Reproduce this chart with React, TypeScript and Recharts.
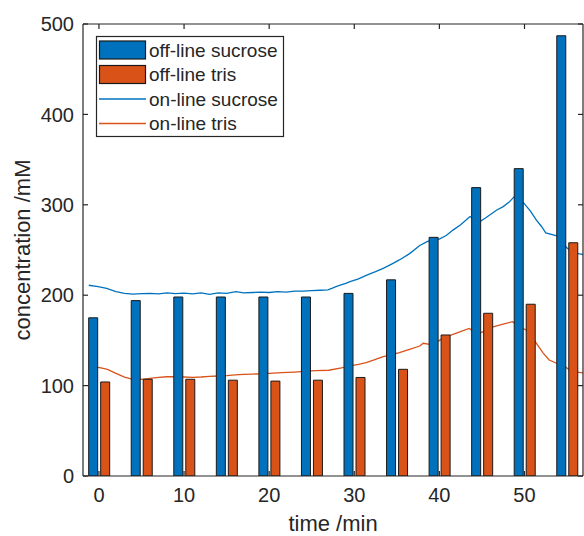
import { ComposedChart, Bar, Line, XAxis, YAxis, Legend, Label } from "recharts";

// off-line samples, every 5 min
const offlineTimes = [0, 5, 10, 15, 20, 25, 30, 35, 40, 45, 50, 55];
const offlineSucrose = [175, 194, 198, 198, 198, 198, 202, 217, 264, 319, 340, 487];
const offlineTris = [104, 107, 107, 106, 105, 106, 109, 118, 156, 180, 190, 258];

// on-line sucrose trace
const sucroseTimes = [
  -1.2, -0.1, 0.9, 2, 3, 4, 5, 6, 7, 8, 9, 10, 11, 12, 13, 14, 15, 16.1, 17, 18.1,
  19, 20, 21, 22, 23, 24, 25, 26, 26.9, 27.5, 28, 29, 29.5, 30.5, 31.4, 32.5, 33.4,
  34.5, 35.3, 36.5, 37.7, 38.5, 39.3, 40, 40.8, 41.6, 42.5, 43.6, 44.7, 45.5, 46.7,
  47.5, 48.2, 48.8, 49.3, 50, 50.7, 51.4, 52, 52.5, 53.7, 54.3, 54.9, 55.7, 56.5, 56.9,
];
const sucroseValues = [
  211, 209.5, 207.5, 204, 202, 201.3, 201.8, 202, 201.5, 202.5, 201.8, 202.3, 201.5, 202.5, 201, 202.5, 202, 204, 202.5, 203,
  203.5, 203, 204, 203.5, 204.5, 204.5, 205, 205.5, 205.8, 208, 210, 213, 215, 218, 222, 226, 229.7,
  235, 239, 246, 255, 259, 262, 262, 266, 272, 278, 287, 281, 286, 294,
  298, 303, 309, 308, 301, 293, 283, 276, 269, 266, 262, 253, 247, 245.6, 245,
];

// on-line tris trace
const trisTimes = [
  -1.2, 0.1, 1, 2, 3, 4, 5, 6, 7, 8, 9, 10, 11, 12, 13, 14, 15, 16, 17, 18, 19, 20,
  21.5, 23, 24.5, 25.5, 27, 28.5, 29.5, 30.5, 31.4, 32.5, 33.4, 34.5, 35.3, 36.5, 37.7,
  38.1, 39.2, 40, 40.8, 42, 43.5, 44.5, 45.5, 46.3, 47.5, 48.6, 49.4, 50.2, 50.8, 51.4,
  52.2, 52.9, 53.7, 54.5, 55.2, 55.7, 56.9,
];
const trisValues = [
  121, 120, 118, 113.6, 109.5, 107, 107, 108, 109, 109.8, 110, 109.5, 109, 109.5, 110.3, 110.6, 111, 111.8, 112.5, 112.8, 113, 113.5,
  114.3, 115, 116, 116.5, 117, 119.5, 121.7, 123.5, 125.4, 129, 132, 134.5, 136.4, 140, 143.8,
  146.8, 145, 150, 154, 158, 163.3, 157, 161, 165, 168, 170.7, 165, 161.5, 155, 146.8,
  136, 128.3, 125, 122.8, 118, 115.4, 114,
];

const xTicks = [0, 10, 20, 30, 40, 50];
const yTicks = [0, 100, 200, 300, 400, 500];
const legendOrder = ["off-line sucrose", "off-line tris", "on-line sucrose", "on-line tris"];

const X_DOMAIN: [number, number] = [-1.875, 56.875];
const Y_DOMAIN: [number, number] = [0, 500];

const AXIS = "#262626";
const EDGE = "#1a1a1a";
const BLUE = "#0072BD";
const ORANGE = "#D95319";
const FONT = "'Liberation Sans', Arial, Helvetica, sans-serif";

const barData = offlineTimes.map((t, i) => ({ t, sucrose: offlineSucrose[i], tris: offlineTris[i] }));
const sucroseLine = sucroseTimes.map((t, i) => ({ t, v: sucroseValues[i] }));
const trisLine = trisTimes.map((t, i) => ({ t, v: trisValues[i] }));

const axisLineStyle = { stroke: AXIS, strokeWidth: 1.2 };
const TICK = 5; // inward tick length
const X_GAP = 12; // axis line -> top of x labels
const Y_GAP = 9; // axis line -> right end of y labels

// tick renderers draw the inward mark themselves, then the label
const BottomTick = ({ x, y, payload }: any) => (
  <g>
    <line x1={x} x2={x} y1={y - X_GAP} y2={y - X_GAP - TICK} stroke={AXIS} strokeWidth={1.2} />
    <text x={x} y={y} dy="0.71em" textAnchor="middle" fill={AXIS} fontSize={20} fontFamily={FONT}>
      {payload.value}
    </text>
  </g>
);

const LeftTick = ({ x, y, payload }: any) => (
  <g>
    <line x1={x + Y_GAP} x2={x + Y_GAP + TICK} y1={y} y2={y} stroke={AXIS} strokeWidth={1.2} />
    <text x={x} y={y} dy="0.355em" textAnchor="end" fill={AXIS} fontSize={20} fontFamily={FONT}>
      {payload.value}
    </text>
  </g>
);

// top and right edges of the box: marks only
const TopTick = ({ x, y }: any) => (
  <line x1={x} x2={x} y1={y} y2={y + TICK} stroke={AXIS} strokeWidth={1.2} />
);

const RightTick = ({ x, y }: any) => (
  <line x1={x - TICK} x2={x} y1={y} y2={y} stroke={AXIS} strokeWidth={1.2} />
);

function LegendBox({ payload }: any) {
  const items = [...(payload ?? [])].sort(
    (a: any, b: any) => legendOrder.indexOf(a.value) - legendOrder.indexOf(b.value)
  );
  return (
    <svg width={188} height={101} style={{ display: "block", overflow: "visible" }}>
      <rect x={0.5} y={0.5} width={187} height={100} fill="#fff" stroke={AXIS} strokeWidth={1.2} />
      {items.map((it: any, i: number) => {
        const cy = 14 + i * 24.5;
        return (
          <g key={it.value}>
            {it.type === "rect" ? (
              <rect x={3.5} y={cy - 9} width={46} height={18} fill={it.color} stroke={EDGE} strokeWidth={1.2} />
            ) : (
              <line x1={3} y1={cy} x2={50} y2={cy} stroke={it.color} strokeWidth={1.3} />
            )}
            <text x={53} y={cy} dominantBaseline="central" fill={AXIS} fontSize={19} fontFamily={FONT}>
              {it.value}
            </text>
          </g>
        );
      })}
    </svg>
  );
}

const XTitle = ({ viewBox }: any) => (
  <text
    x={viewBox.x + viewBox.width / 2}
    y={viewBox.y + 55}
    textAnchor="middle"
    fill={AXIS}
    fontSize={22}
    fontFamily={FONT}
  >
    time /min
  </text>
);

const YTitle = ({ viewBox }: any) => {
  const x = viewBox.x + 30;
  const y = viewBox.y + viewBox.height / 2;
  return (
    <text
      x={x}
      y={y}
      transform={`rotate(-90, ${x}, ${y})`}
      textAnchor="middle"
      fill={AXIS}
      fontSize={22}
      fontFamily={FONT}
    >
      concentration /mM
    </text>
  );
};

export default function App() {
  return (
    <div style={{ position: "absolute", left: 0, top: 0, background: "#fff" }}>
      <ComposedChart
        width={584}
        height={536}
        data={barData}
        margin={{ top: 0, right: 0, bottom: 0, left: 0 }}
        barGap={3}
      >
        <XAxis
          dataKey="t"
          type="number"
          domain={X_DOMAIN}
          ticks={xTicks}
          interval={0}
          allowDataOverflow
          height={60}
          axisLine={axisLineStyle}
          tickLine={false}
          tickSize={0}
          tickMargin={X_GAP}
          tick={BottomTick}
        >
          <Label content={XTitle} />
        </XAxis>
        {/* top edge; the sample bars are laid out on this axis */}
        <XAxis
          xAxisId="top"
          dataKey="t"
          orientation="top"
          type="number"
          domain={X_DOMAIN}
          ticks={xTicks}
          interval={0}
          allowDataOverflow
          height={24}
          axisLine={axisLineStyle}
          tickLine={false}
          tickSize={0}
          tickMargin={0}
          tick={TopTick}
        />
        <YAxis
          type="number"
          domain={Y_DOMAIN}
          ticks={yTicks}
          interval={0}
          allowDataOverflow
          width={83}
          axisLine={axisLineStyle}
          tickLine={false}
          tickSize={0}
          tickMargin={Y_GAP}
          tick={LeftTick}
        >
          <Label content={YTitle} />
        </YAxis>
        <YAxis
          yAxisId="right"
          orientation="right"
          type="number"
          domain={Y_DOMAIN}
          ticks={yTicks}
          interval={0}
          allowDataOverflow
          width={1}
          axisLine={axisLineStyle}
          tickLine={false}
          tickSize={0}
          tickMargin={0}
          tick={RightTick}
        />
        <Legend
          layout="vertical"
          align="center"
          verticalAlign="middle"
          wrapperStyle={{ left: 96, top: 36, width: 188, height: 101 }}
          content={LegendBox}
        />
        {/* traces sit behind the sample bars */}
        <Line
          data={sucroseLine}
          dataKey="v"
          name="on-line sucrose"
          type="linear"
          stroke={BLUE}
          strokeWidth={1.3}
          dot={false}
          legendType="line"
          isAnimationActive={false}
          zIndex={250}
        />
        <Line
          data={trisLine}
          dataKey="v"
          name="on-line tris"
          type="linear"
          stroke={ORANGE}
          strokeWidth={1.3}
          dot={false}
          legendType="line"
          isAnimationActive={false}
          zIndex={250}
        />
        <Bar
          xAxisId="top"
          dataKey="sucrose"
          name="off-line sucrose"
          fill={BLUE}
          stroke={EDGE}
          strokeWidth={1}
          barSize={9}
          legendType="rect"
          isAnimationActive={false}
        />
        <Bar
          xAxisId="top"
          dataKey="tris"
          name="off-line tris"
          fill={ORANGE}
          stroke={EDGE}
          strokeWidth={1}
          barSize={9}
          legendType="rect"
          isAnimationActive={false}
        />
      </ComposedChart>
    </div>
  );
}
